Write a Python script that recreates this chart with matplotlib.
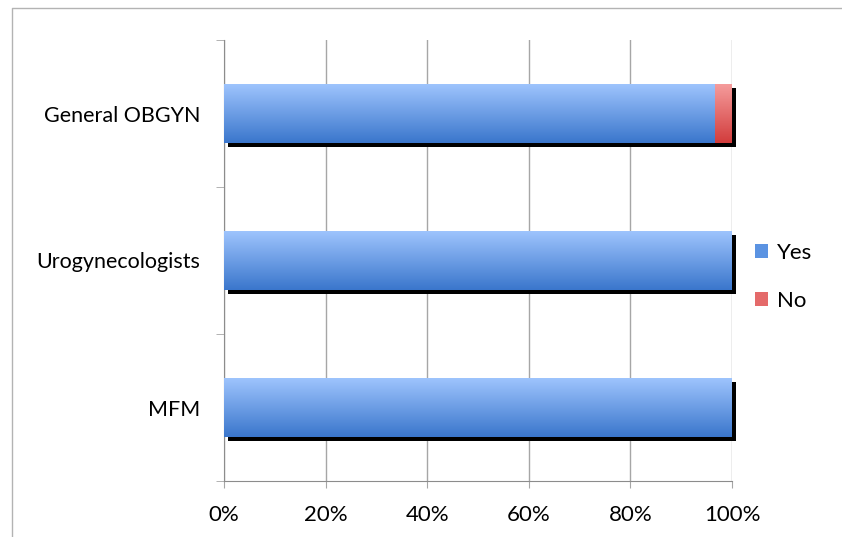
import numpy as np
import matplotlib.pyplot as plt
import matplotlib.patheffects as pe
from matplotlib.colors import LinearSegmentedColormap
from matplotlib.lines import Line2D
from matplotlib.patches import Patch

categories = ['MFM', 'Urogynecologists', 'General OBGYN']
yes = [100, 100, 96.7]
no = [0, 0, 3.3]

plt.rcParams['font.family'] = ['Lato', 'DejaVu Sans']

fig = plt.figure(figsize=(8.42, 5.37), dpi=100)
ax = fig.add_axes([224 / 842, 56 / 537, 508 / 842, 441 / 537])

blue_cm = LinearSegmentedColormap.from_list('b', ['#3a76cc', '#9ec4fd'])
red_cm = LinearSegmentedColormap.from_list('r', ['#d23c3c', '#f59c9c'])
grad = np.linspace(0, 1, 256).reshape(-1, 1)

y = np.arange(len(categories))
h = 0.4
shadow = [pe.SimplePatchShadow(offset=(3, -3), shadow_rgbFace='black', alpha=1.0), pe.Normal()]

ax.set_axisbelow(True)
ax.grid(axis='x', color='#a6a6a6', lw=1)

for i in range(len(categories)):
    total = yes[i] + no[i]
    # shadow for the whole stacked bar
    ax.barh(y[i], total, height=h, color='white', zorder=2,
            path_effects=shadow, clip_on=False)
    segs = [(0, yes[i], blue_cm), (yes[i], no[i], red_cm)]
    for left, w, cm in segs:
        if w <= 0:
            continue
        bar = ax.barh(y[i], w, left=left, height=h, color='none', zorder=3)[0]
        im = ax.imshow(grad, cmap=cm, origin='lower', aspect='auto',
                       extent=[left, left + w, y[i] - h / 2, y[i] + h / 2],
                       zorder=3)
        im.set_clip_path(bar)

ax.set_xlim(0, 100)
ax.set_ylim(-0.5, 2.5)
ax.set_xticks(np.arange(0, 101, 20))
ax.set_xticklabels([f'{v}%' for v in range(0, 101, 20)], fontsize=16)
ax.set_yticks(y)
ax.set_yticklabels(categories, fontsize=15.5)
ax.tick_params(axis='y', length=0, pad=17)
ax.tick_params(axis='x', length=5, color='#a6a6a6', pad=12)
ax.set_yticks([-0.5, 0.5, 1.5, 2.5], minor=True)
ax.tick_params(axis='y', which='minor', length=6, color='#a6a6a6')

for s in ['top', 'right']:
    ax.spines[s].set_visible(False)
for s in ['left', 'bottom']:
    ax.spines[s].set_color('#8c8c8c')

handles = [Patch(facecolor='#5b93e2', label='Yes'), Patch(facecolor='#e46a6a', label='No')]
fig.legend(handles=handles, loc='center left', bbox_to_anchor=(735 / 842, 1 - 277 / 537),
           frameon=False, fontsize=16, handlelength=0.6, handleheight=0.6,
           labelspacing=1.25, handletextpad=0.4)

fig.add_artist(Line2D([12 / 842, 12 / 842, 1], [0, 1 - 8 / 537, 1 - 8 / 537],
                      transform=fig.transFigure, color='#b3b3b3', lw=1))

fig.savefig('out.png', dpi=100)
